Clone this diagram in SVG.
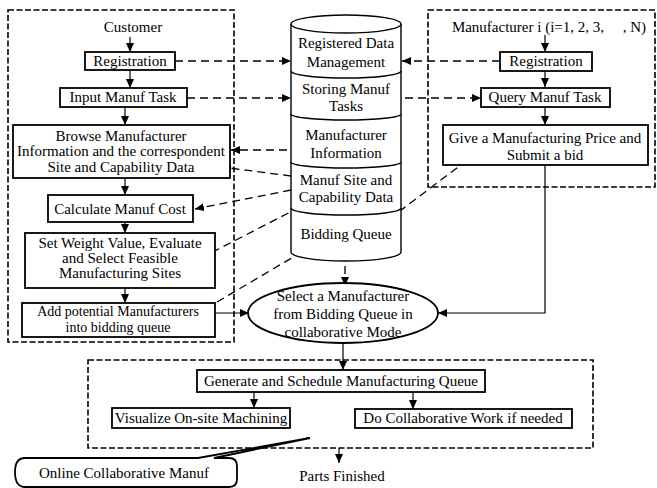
<svg xmlns="http://www.w3.org/2000/svg" width="657" height="488" viewBox="0 0 657 488">
<defs>
<marker id="ah" markerUnits="userSpaceOnUse" markerWidth="9" markerHeight="8" refX="9" refY="4" orient="auto"><path d="M0,0 L9,4 L0,8 z" fill="#000"/></marker>
<style>
text{font-family:"Liberation Serif","Times New Roman",serif;font-size:15px;fill:#000;text-anchor:middle}
.sm{font-size:14px}
.box{fill:#fff;stroke:#000;stroke-width:1.8}
.grp{fill:none;stroke:#000;stroke-width:1.6;stroke-dasharray:6,2.5}
.sol{fill:none;stroke:#000;stroke-width:1.2;marker-end:url(#ah)}
.dsh{fill:none;stroke:#000;stroke-width:1.3;stroke-dasharray:8,5;marker-end:url(#ah)}
.cyl{fill:#fff;stroke:#000;stroke-width:1.4}
</style>
</defs>
<rect width="657" height="488" fill="#fff"/>
<g id="groups">
<rect id="customer-group" class="grp" x="8" y="10" width="226" height="332"/>
<rect id="manufacturer-group" class="grp" x="428" y="10" width="227" height="177"/>
<rect id="execution-group" class="grp" x="88" y="360" width="505" height="88"/>
</g>
<g id="connectors">
<path class="sol" d="M130,37 V52"/>
<path class="sol" d="M130,70 V88"/>
<path class="sol" d="M125,107 V125"/>
<path class="sol" d="M125,178 V195"/>
<path class="sol" d="M125,222 V233"/>
<path class="sol" d="M125,288 V303"/>
<path class="sol" d="M215,313 H249"/>
<path class="sol" d="M545,35 V52"/>
<path class="sol" d="M545,71 V87"/>
<path class="sol" d="M545,107 V125"/>
<path class="sol" d="M545,165 V313 H438"/>
<path class="sol" d="M343,343 V370"/>
<path class="sol" d="M254,392 V408"/>
<path class="sol" d="M413,392 V409"/>
<path class="sol" d="M339,448 V463"/>
<path class="dsh" d="M175,61 H291"/>
<path class="dsh" d="M500,61 H402"/>
<path class="dsh" d="M187,98 H291"/>
<path class="dsh" d="M392,98 H481"/>
<path class="dsh" d="M300,150 H231"/>
<path class="dsh" d="M291,176 L222,167"/>
<path class="dsh" d="M291,190 L195,209"/>
<path class="dsh" d="M300,207 L205,256"/>
<path class="dsh" d="M217,302 L312,246"/>
<path class="dsh" d="M478,152 L388,220"/>
<path class="dsh" d="M345,240 V286"/>
</g>
<g id="customer-label"><text x="133" y="32">Customer</text></g>
<g id="c-registration"><rect class="box" x="85" y="52" width="90" height="18"/><text x="130" y="66">Registration</text></g>
<g id="c-input-task"><rect class="box" x="60" y="88" width="127" height="19"/><text x="123" y="102">Input Manuf  Task</text></g>
<g id="c-browse"><rect class="box" x="13" y="125" width="217" height="53"/><text x="121" y="141">Browse Manufacturer</text><text x="121" y="156">Information and the correspondent</text><text x="121" y="172">Site and Capability Data</text></g>
<g id="c-calc-cost"><rect class="box" x="48" y="195" width="145" height="27"/><text x="120" y="214">Calculate Manuf  Cost</text></g>
<g id="c-set-weight"><rect class="box" x="25" y="233" width="190" height="55"/><text x="120" y="248">Set Weight Value, Evaluate</text><text x="120" y="263">and Select Feasible</text><text x="120" y="278">Manufacturing Sites</text></g>
<g id="c-add-potential"><rect class="box" x="22" y="303" width="193" height="34"/><text class="sm" x="118" y="316">Add potential Manufacturers</text><text class="sm" x="118" y="332">into bidding queue</text></g>
<g id="database">
<path class="cyl" d="M291,24 V252 A55,9 0 0 0 401,252 V24"/>
<ellipse class="cyl" cx="346" cy="24" rx="55" ry="9"/>
<path class="cyl" fill="none" d="M291,71 A55,7 0 0 0 401,71"/>
<path class="cyl" fill="none" d="M291,114 A55,6 0 0 0 401,114"/>
<path class="cyl" fill="none" d="M291,162 A55,6 0 0 0 401,162"/>
<path class="cyl" fill="none" d="M291,208 A55,7 0 0 0 401,208"/>
<text x="346" y="48">Registered Data</text><text x="346" y="67">Management</text>
<text x="346" y="94">Storing Manuf</text><text x="346" y="111">Tasks</text>
<text x="346" y="140">Manufacturer</text><text x="346" y="158">Information</text>
<text x="346" y="185">Manuf  Site and</text><text x="346" y="202">Capability Data</text>
<text x="346" y="239">Bidding Queue</text>
</g>
<g id="manufacturer-label"><text x="549" y="32">Manufacturer i (i=1, 2, 3, &#160;&#160;&#160; , N)</text></g>
<g id="m-registration"><rect class="box" x="500" y="52" width="92" height="19"/><text x="546" y="66">Registration</text></g>
<g id="m-query-task"><rect class="box" x="481" y="88" width="129" height="19"/><text x="545" y="102">Query Manuf  Task</text></g>
<g id="m-give-price"><rect class="box" x="443" y="125" width="205" height="40"/><text x="545" y="143">Give a Manufacturing Price and</text><text x="545" y="160">Submit a bid</text></g>
<g id="select-manufacturer"><ellipse class="box" cx="343" cy="313" rx="95" ry="30"/><text x="343" y="301">Select a Manufacturer</text><text x="343" y="319">from Bidding Queue in</text><text x="343" y="337">collaborative Mode</text></g>
<g id="generate-queue"><rect class="box" x="197" y="370" width="288" height="22"/><text x="341" y="386">Generate and Schedule Manufacturing Queue</text></g>
<g id="visualize"><rect class="box" x="112" y="408" width="178" height="20"/><text x="201" y="423">Visualize On-site Machining</text></g>
<g id="collab-work"><rect class="box" x="355" y="409" width="217" height="19"/><text x="463" y="423">Do Collaborative Work if needed</text></g>
<g id="online-collab"><path class="box" stroke-width="1.4" d="M25,458 H198 L310,438 L214,458 H229 Q237,458 237,466 V479 Q237,487 229,487 H25 Q15,487 15,472 Q15,458 25,458 Z"/><text x="124" y="478">Online Collaborative Manuf</text></g>
<g id="parts-finished"><text x="342" y="481">Parts Finished</text></g>
</svg>
